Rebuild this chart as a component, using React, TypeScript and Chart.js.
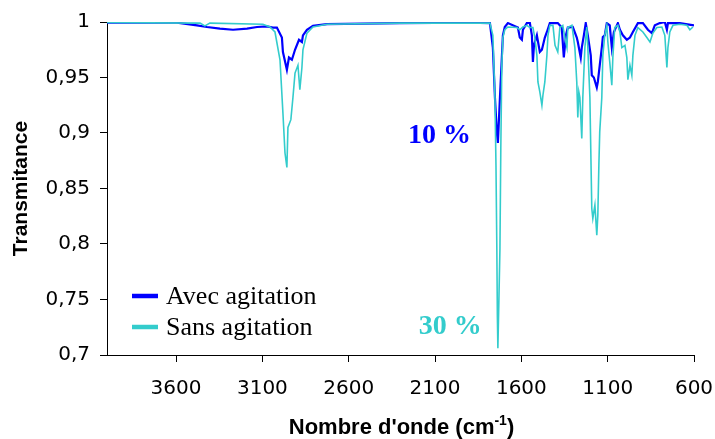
import React, { useEffect, useRef } from 'react';
import { Chart, registerables } from 'chart.js';

Chart.register(...registerables);

// Wavenumbers (cm-1) and transmittance values
const avecWn = [4000, 3595, 3479, 3421, 3346, 3270, 3189, 3131, 3073, 3039, 3016, 2987, 2981, 2958, 2946, 2929, 2911, 2888, 2871, 2865, 2842, 2807, 2726, 2303, 1898, 1782, 1765, 1753, 1742, 1736, 1724, 1713, 1707, 1696, 1678, 1620, 1609, 1597, 1591, 1568, 1551, 1539, 1533, 1527, 1510, 1493, 1481, 1464, 1452, 1435, 1417, 1389, 1366, 1354, 1342, 1331, 1302, 1279, 1273, 1256, 1250, 1238, 1227, 1215, 1198, 1192, 1180, 1163, 1157, 1146, 1134, 1128, 1117, 1105, 1088, 1076, 1064, 1047, 1041, 1029, 1012, 989, 971, 954, 925, 896, 867, 844, 827, 798, 769, 757, 751, 682, 600];
const avecT = [0.9995, 0.9995, 0.997, 0.9955, 0.994, 0.993, 0.994, 0.9955, 0.996, 0.995, 0.995, 0.986, 0.973, 0.957, 0.968, 0.966, 0.975, 0.984, 0.982, 0.988, 0.993, 0.9965, 0.998, 0.999, 0.9995, 0.999, 0.977, 0.932, 0.901, 0.891, 0.932, 0.968, 0.988, 0.9955, 0.999, 0.995, 0.986, 0.984, 0.993, 0.999, 0.9995, 0.988, 0.964, 0.979, 0.988, 0.973, 0.975, 0.986, 0.991, 0.999, 0.999, 0.999, 0.995, 0.968, 0.988, 0.995, 0.9955, 0.986, 0.982, 0.968, 0.977, 0.988, 0.999, 0.988, 0.97, 0.952, 0.95, 0.941, 0.946, 0.961, 0.977, 0.9865, 0.988, 0.999, 0.997, 0.977, 0.991, 0.997, 0.999, 0.993, 0.988, 0.984, 0.986, 0.991, 0.999, 0.999, 0.993, 0.99, 0.997, 0.999, 1.0, 0.993, 0.999, 0.999, 0.997];

const sansWn = [4000, 3461, 3433, 3404, 3097, 3056, 3027, 2998, 2981, 2969, 2958, 2952, 2935, 2923, 2911, 2894, 2883, 2871, 2865, 2842, 2807, 2726, 2303, 1898, 1782, 1765, 1759, 1753, 1747, 1742, 1739, 1736, 1730, 1724, 1719, 1713, 1707, 1696, 1678, 1626, 1609, 1591, 1568, 1551, 1533, 1522, 1510, 1504, 1493, 1481, 1475, 1464, 1452, 1446, 1435, 1417, 1405, 1389, 1377, 1360, 1348, 1336, 1331, 1307, 1290, 1279, 1273, 1267, 1261, 1250, 1244, 1232, 1221, 1215, 1203, 1198, 1192, 1186, 1174, 1163, 1157, 1151, 1146, 1134, 1128, 1117, 1105, 1099, 1088, 1076, 1070, 1059, 1041, 1029, 1018, 1000, 989, 983, 971, 960, 954, 942, 925, 896, 873, 855, 838, 815, 786, 769, 757, 751, 740, 722, 682, 641, 624, 606];
const sansT = [0.9995, 0.999, 0.9965, 0.999, 0.998, 0.9955, 0.991, 0.966, 0.918, 0.882, 0.869, 0.905, 0.912, 0.932, 0.954, 0.961, 0.939, 0.959, 0.975, 0.99, 0.9955, 0.998, 0.999, 0.999, 0.999, 0.988, 0.961, 0.932, 0.871, 0.796, 0.736, 0.706, 0.75, 0.796, 0.886, 0.961, 0.986, 0.993, 0.9955, 0.995, 0.993, 0.9955, 0.997, 0.995, 0.995, 0.986, 0.97, 0.946, 0.937, 0.925, 0.934, 0.946, 0.97, 0.988, 0.997, 0.997, 0.979, 0.973, 0.995, 0.997, 0.986, 0.977, 0.995, 0.997, 0.977, 0.946, 0.914, 0.937, 0.932, 0.895, 0.932, 0.977, 0.9955, 0.977, 0.932, 0.886, 0.832, 0.823, 0.835, 0.808, 0.826, 0.871, 0.901, 0.932, 0.97, 0.988, 0.997, 0.982, 0.964, 0.943, 0.968, 0.995, 0.997, 0.991, 0.977, 0.979, 0.968, 0.948, 0.961, 0.952, 0.97, 0.988, 0.995, 0.991, 0.986, 0.982, 0.99, 0.995, 0.9955, 0.988, 0.959, 0.977, 0.991, 0.997, 0.998, 0.997, 0.993, 0.9955];

const xTicks = [3600, 3100, 2600, 2100, 1600, 1100, 600];
const yTicks = [0.7, 0.75, 0.8, 0.85, 0.9, 0.95, 1];
const seriesLabels = ['Avec agitation', 'Sans agitation'];
const seriesColors = ['#0000FF', '#33CCCC'];
const noteTexts = ['10 %', '30 %'];
const noteWn = [2257, 2194];
const noteT = [0.891, 0.719];

const toPoints = (wn: number[], t: number[]) => wn.map((x, i) => ({ x, y: t[i] }));

const overlayPlugin = {
  id: 'overlay',
  afterDraw(chart: any) {
    const { ctx, chartArea, scales } = chart;
    ctx.save();
    // legend inside plot
    const legendY = [chartArea.bottom - 59, chartArea.bottom - 28];
    ctx.font = '26px "Liberation Serif"';
    ctx.textBaseline = 'alphabetic';
    ctx.textAlign = 'left';
    seriesLabels.forEach((lab, i) => {
      ctx.strokeStyle = seriesColors[i];
      ctx.lineWidth = 4.5;
      ctx.beginPath();
      ctx.moveTo(chartArea.left + 25, legendY[i]);
      ctx.lineTo(chartArea.left + 51, legendY[i]);
      ctx.stroke();
      ctx.fillStyle = '#000';
      ctx.fillText(lab, chartArea.left + 59, legendY[i] + 8);
    });
    // annotations
    ctx.font = 'bold 28px "Liberation Serif"';
    noteTexts.forEach((txt, i) => {
      ctx.fillStyle = seriesColors[i];
      ctx.fillText(txt, scales.x.getPixelForValue(noteWn[i]), scales.y.getPixelForValue(noteT[i]));
    });
    // x title with superscript
    const main = "Nombre d'onde (cm";
    const sup = '-1';
    const end = ')';
    const fMain = 'bold 22px "Liberation Sans"';
    const fSup = 'bold 14px "Liberation Sans"';
    ctx.font = fMain;
    const wMain = ctx.measureText(main).width;
    const wEnd = ctx.measureText(end).width;
    ctx.font = fSup;
    const wSup = ctx.measureText(sup).width;
    const total = wMain + wSup + wEnd;
    const cx = (chartArea.left + chartArea.right) / 2 + 1;
    const baseY = 434;
    let x0 = cx - total / 2;
    ctx.fillStyle = '#000';
    ctx.font = fMain;
    ctx.fillText(main, x0, baseY);
    x0 += wMain;
    ctx.font = fSup;
    ctx.fillText(sup, x0, baseY - 9);
    x0 += wSup;
    ctx.font = fMain;
    ctx.fillText(end, x0, baseY);
    ctx.restore();
  },
};

export default function App() {
  const canvasRef = useRef<HTMLCanvasElement | null>(null);

  useEffect(() => {
    if (!canvasRef.current) return;
    const tickFont = { family: '"DejaVu Sans"', size: 20 };
    const chart = new Chart(canvasRef.current, {
      type: 'line',
      data: {
        datasets: [
          {
            label: seriesLabels[0],
            data: toPoints(avecWn, avecT),
            borderColor: seriesColors[0],
            borderWidth: 2.2,
            pointRadius: 0,
            tension: 0,
            order: 1,
          },
          {
            label: seriesLabels[1],
            data: toPoints(sansWn, sansT),
            borderColor: seriesColors[1],
            borderWidth: 1.6,
            pointRadius: 0,
            tension: 0,
            order: 0,
          },
        ],
      },
      options: {
        responsive: false,
        animation: false,
        events: [],
        layout: { padding: { left: 0, right: 21, top: 22, bottom: 0 } },
        plugins: { legend: { display: false }, tooltip: { enabled: false }, title: { display: false } },
        scales: {
          x: {
            type: 'linear',
            reverse: true,
            min: 600,
            max: 4000,
            afterBuildTicks: (s: any) => { s.ticks = xTicks.map((v) => ({ value: v })); },
            afterFit: (s: any) => {
              s.height = 84;
              s.paddingLeft = 0;
              s.paddingRight = 0;
              s.paddingTop = 0;
              s.paddingBottom = 0;
            },
            ticks: {
              font: tickFont,
              color: '#000',
              padding: 15,
              maxRotation: 0,
              autoSkip: false,
              callback: (v: any) => String(v),
            },
            grid: { display: true, drawOnChartArea: false, drawTicks: true, tickLength: 7, tickColor: '#000', tickWidth: 1 },
            border: { display: true, color: '#000', width: 1 },
          },
          y: {
            type: 'linear',
            min: 0.7,
            max: 1,
            afterBuildTicks: (s: any) => { s.ticks = yTicks.map((v) => ({ value: v })); },
            afterFit: (s: any) => {
              s.width = 107;
              s.paddingLeft = 0;
              s.paddingRight = 0;
              s.paddingTop = 0;
              s.paddingBottom = 0;
            },
            ticks: {
              font: tickFont,
              color: '#000',
              padding: 10,
              autoSkip: false,
              callback: (v: any) => String(Number(Number(v).toFixed(2))).replace('.', ','),
            },
            grid: { display: true, drawOnChartArea: false, drawTicks: true, tickLength: 7, tickColor: '#000', tickWidth: 1 },
            border: { display: true, color: '#000', width: 1 },
            title: {
              display: true,
              text: 'Transmitance',
              color: '#000',
              font: { family: '"Liberation Sans"', weight: 'bold', size: 21 },
              padding: { top: 9, bottom: 0 },
            },
          },
        },
      },
      plugins: [overlayPlugin],
    } as any);
    return () => chart.destroy();
  }, []);

  return (
    <div style={{ position: 'absolute', left: 0, top: 0, width: 715, height: 439, background: '#fff' }}>
      <canvas ref={canvasRef} width={715} height={439} style={{ display: 'block' }} />
    </div>
  );
}
